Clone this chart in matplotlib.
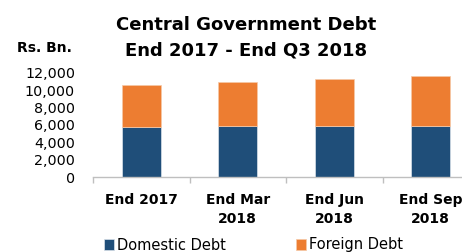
import matplotlib
matplotlib.use("Agg")
import matplotlib.pyplot as plt
from matplotlib.ticker import FuncFormatter, FixedLocator

categories = ["End 2017", "End Mar\n2018", "End Jun\n2018", "End Sep\n2018"]
domestic = [5740, 5890, 5920, 5920]
foreign = [4860, 5090, 5370, 5710]
yticks = [0, 2000, 4000, 6000, 8000, 10000, 12000]

c_dom = "#1F4E79"
c_for = "#ED7D31"

plt.rcParams['font.family'] = ['DejaVu Sans']
fig = plt.figure(figsize=(4.62, 2.52), dpi=100)
ax = fig.add_axes([93/462, 1-177.3/252, (479-93)/462, (177.3-72.7)/252])

x = list(range(len(categories)))
ax.bar(x, domestic, width=0.40, color=c_dom, edgecolor="#d9e1ea", linewidth=0.5, label="Domestic Debt")
ax.bar(x, foreign, width=0.40, bottom=domestic, color=c_for, edgecolor="#f6c9a8", linewidth=0.5, label="Foreign Debt")

ax.set_xlim(-0.5, len(categories) - 0.5)
ax.set_ylim(0, 12000)
ax.set_yticks(yticks)
ax.yaxis.set_major_formatter(FuncFormatter(lambda v, p: f"{int(v):,}"))
ax.tick_params(axis='y', length=0, pad=13, labelsize=10.3, colors="#000000")

ax.xaxis.set_major_locator(FixedLocator([i - 0.5 for i in range(len(categories) + 1)]))
ax.xaxis.set_major_formatter(FuncFormatter(lambda v, p: ""))
ax.xaxis.set_minor_locator(FixedLocator(x))
ax.set_xticklabels(categories, minor=True, fontweight='bold', fontsize=10, linespacing=1.45)
ax.tick_params(axis='x', which='major', length=4, color="#BFBFBF", width=1)
ax.tick_params(axis='x', which='minor', length=0, pad=11)

for s in ['top', 'right', 'left']:
    ax.spines[s].set_visible(False)
ax.spines['bottom'].set_color("#BFBFBF")
ax.spines['bottom'].set_linewidth(1)

fig.text(246/462, 1-25/252, "Central Government Debt", ha='center', va='center', fontsize=13, fontweight='bold')
fig.text(246/462, 1-50/252, "End 2017 - End Q3 2018", ha='center', va='center', fontsize=13, fontweight='bold')
fig.text(17/462, 1-48/252, "Rs. Bn.", ha='left', va='center', fontsize=10, fontweight='bold')

fig.legend(loc='center left', bbox_to_anchor=(104/462, 1-245/252), ncol=2, frameon=False,
           fontsize=10.5, handlelength=0.7, handleheight=0.7, handletextpad=0.2, columnspacing=4.8,
           borderaxespad=0, borderpad=0)

fig.savefig("out.png", dpi=100)
